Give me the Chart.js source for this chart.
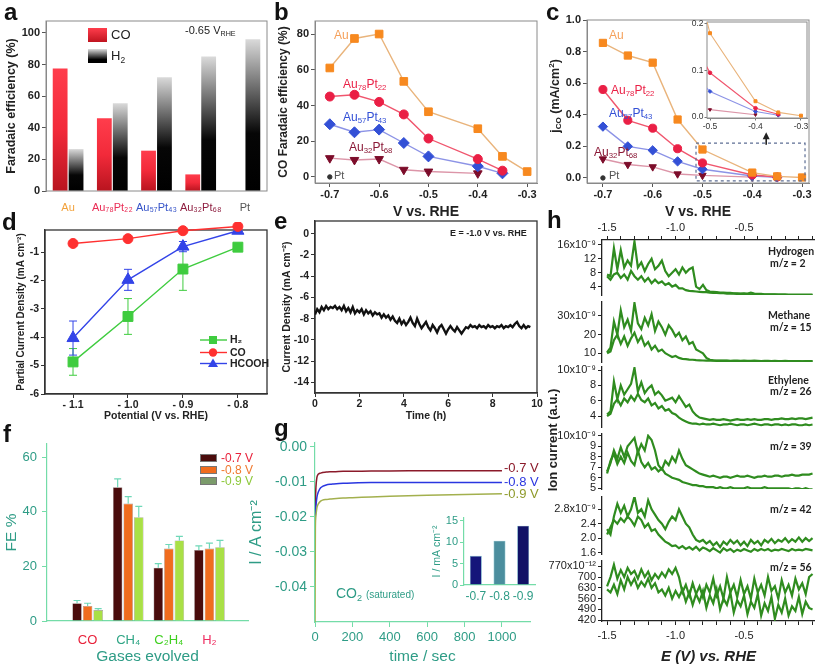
<!DOCTYPE html>
<html>
<head>
<meta charset="utf-8">
<script src="https://cdn.jsdelivr.net/npm/chart.js@4.4.1/dist/chart.umd.min.js"></script>
<style>
  body { margin: 0; background: #fff; }
  #fig { position: relative; width: 815px; height: 666px; overflow: hidden; background: #fff;
         font-family: "Liberation Sans", Arial, sans-serif; color: #222; }
  #fig canvas { position: absolute; }
  .t { position: absolute; white-space: nowrap; line-height: 1; }
  .L { position: absolute; font: bold 24px "Liberation Sans", Arial, sans-serif; line-height: 1; color: #111; }
  .r { position: absolute; white-space: nowrap; line-height: 1; transform: translate(-50%, -50%) rotate(-90deg); }
  .sw { position: absolute; box-sizing: border-box; }
  .h { font: bold 10.5px Lato, "Open Sans", sans-serif; color: #222; }
  sub { font-size: 65%; vertical-align: -0.3em; line-height: 0; }
  sup { font-size: 65%; vertical-align: 0.55em; line-height: 0; }
</style>
</head>
<body>
<div id="fig">
  <canvas id="ca"></canvas><canvas id="cb"></canvas><canvas id="cc"></canvas><canvas id="cci"></canvas>
  <canvas id="cd"></canvas><canvas id="ce"></canvas>
  <canvas id="cf"></canvas><canvas id="cg"></canvas><canvas id="cgi"></canvas>
  <canvas id="h1"></canvas><canvas id="h2"></canvas><canvas id="h3"></canvas>
  <canvas id="h4"></canvas><canvas id="h5"></canvas><canvas id="h6"></canvas>

  <!-- panel letters -->
  <div class="L" style="left:4px;top:0px">a</div>
  <div class="L" style="left:274px;top:0px">b</div>
  <div class="L" style="left:546px;top:0px">c</div>
  <div class="L" style="left:2px;top:210px">d</div>
  <div class="L" style="left:274px;top:209px">e</div>
  <div class="L" style="left:3px;top:422px">f</div>
  <div class="L" style="left:274px;top:416px">g</div>
  <div class="L" style="left:547px;top:208px">h</div>

  <!-- a -->
  <div class="sw" style="left:88px;top:28px;width:19px;height:14px;background:linear-gradient(#ff3d4c,#c0141f)"></div>
  <div class="t" style="left:111px;top:28px;font-size:13px">CO</div>
  <div class="sw" style="left:88px;top:49px;width:19px;height:14px;background:linear-gradient(#dcdcdc,#000 75%)"></div>
  <div class="t" style="left:111px;top:49px;font-size:13px">H<sub>2</sub></div>
  <div class="t" style="left:185px;top:25px;font-size:11px">-0.65 V<sub>RHE</sub></div>

  <!-- b -->
  <div class="t" style="left:334px;top:29px;font-size:12px;color:#f5a05a">Au</div>
  <div class="t" style="left:343px;top:78px;font-size:12px;color:#ea1f45">Au<sub>78</sub>Pt<sub>22</sub></div>
  <div class="t" style="left:343px;top:111px;font-size:12px;color:#3350d6">Au<sub>57</sub>Pt<sub>43</sub></div>
  <div class="t" style="left:349px;top:141px;font-size:12px;color:#8a1836">Au<sub>32</sub>Pt<sub>68</sub></div>
  <div class="t" style="left:334px;top:170px;font-size:11px;color:#555">Pt</div>

  <!-- c -->
  <div class="t" style="left:609px;top:29px;font-size:12px;color:#f5a05a">Au</div>
  <div class="t" style="left:611px;top:84px;font-size:12px;color:#ea1f45">Au<sub>78</sub>Pt<sub>22</sub></div>
  <div class="t" style="left:609px;top:107px;font-size:12px;color:#3350d6">Au<sub>57</sub>Pt<sub>43</sub></div>
  <div class="t" style="left:594px;top:146px;font-size:12px;color:#8a1836">Au<sub>32</sub>Pt<sub>68</sub></div>
  <div class="t" style="left:609px;top:170px;font-size:11px;color:#555">Pt</div>
  <div class="r" style="left:555px;top:96px;font-weight:bold;font-size:12.5px">j<sub>CO</sub> (mA/cm<sup>2</sup>)</div>

  <!-- e -->
  <div class="t" style="left:450px;top:229px;font-weight:bold;font-size:9px">E = -1.0 V vs. RHE</div>

  <!-- f legend -->
  <div class="sw" style="left:200px;top:454px;width:17px;height:8px;border:1px solid #777;background:#4a0c0c"></div>
  <div class="t" style="left:221px;top:452px;font-size:12px;color:#e8213a">-0.7 V</div>
  <div class="sw" style="left:200px;top:466px;width:17px;height:8px;border:1px solid #777;background:#f06c1e"></div>
  <div class="t" style="left:221px;top:464px;font-size:12px;color:#f07a30">-0.8 V</div>
  <div class="sw" style="left:200px;top:477px;width:17px;height:8px;border:1px solid #777;background:#7b9b6b"></div>
  <div class="t" style="left:221px;top:475px;font-size:12px;color:#8cc83a">-0.9 V</div>

  <!-- g -->
  <div class="t" style="left:504px;top:461px;font-size:13px;color:#8b1a2a">-0.7 V</div>
  <div class="t" style="left:504px;top:475px;font-size:13px;color:#2a36e0">-0.8 V</div>
  <div class="t" style="left:504px;top:487px;font-size:13px;color:#8e9a2a">-0.9 V</div>
  <div class="t" style="left:336px;top:586px;font-size:14px;color:#2e9c86">CO<sub>2</sub> <span style="font-size:10px">(saturated)</span></div>

  <!-- h -->
  <div class="r" style="left:552px;top:440px;font-weight:bold;font-size:13px">Ion current (a.u.)</div>
  <div class="t h" style="left:768px;top:245px">Hydrogen</div>
  <div class="t h" style="left:770px;top:257px">m/z = 2</div>
  <div class="t h" style="left:768px;top:309px">Methane</div>
  <div class="t h" style="left:770px;top:321px">m/z = 15</div>
  <div class="t h" style="left:768px;top:374px">Ethylene</div>
  <div class="t h" style="left:770px;top:385px">m/z = 26</div>
  <div class="t h" style="left:770px;top:440px">m/z = 39</div>
  <div class="t h" style="left:770px;top:503px">m/z = 42</div>
  <div class="t h" style="left:770px;top:561px">m/z = 56</div>
</div>

<script>
// ---------------- data ----------------
// a: Faradaic efficiency at -0.65 V_RHE
const A_LABELS = ['Au', 'Au₇₈Pt₂₂', 'Au₅₇Pt₄₃', 'Au₃₂Pt₆₈', 'Pt'];
const A_CO = [77.5, 46, 25.5, 10.5, 0];
const A_H2 = [26.5, 55.5, 72, 85, 96];
const A_YTICKS = [0, 20, 40, 60, 80, 100];

// b, c: potentials shared by the catalyst series
const BC_V = [-0.7, -0.65, -0.6, -0.55, -0.5, -0.4, -0.35, -0.3];
const PT_V = [-0.7];
const BC_XTICKS = [-0.7, -0.6, -0.5, -0.4, -0.3];

const B_AU = [61, 77.5, 80, 53.5, 36.5, 27, 11.5, 3];
const B_AU78 = [45, 46, 42, 35, 21.5, 10, 3.5];
const B_AU57 = [29.5, 25, 26.5, 19, 11.5, 6, 2];
const B_AU32 = [10.5, 9.5, 10, 4, 3, 2];
const B_PT = [0];
const B_YTICKS = [0, 20, 40, 60, 80];

const C_AU = [0.855, 0.775, 0.73, 0.37, 0.18, 0.034, 0.01, 0.003];
const C_AU78 = [0.56, 0.365, 0.315, 0.185, 0.095, 0.019, 0.006];
const C_AU57 = [0.325, 0.2, 0.175, 0.105, 0.055, 0.012, 0.004];
const C_AU32 = [0.12, 0.085, 0.07, 0.025, 0.016, 0.005];
const C_PT = [0];
const C_YTICKS = [0, 0.2, 0.4, 0.6, 0.8, 1.0];
const C_IN_XTICKS = [-0.5, -0.4, -0.3];
const C_IN_YTICKS = [0, 0.1, 0.2];
const C_BOX = [-0.513, -0.294, -0.019, 0.22];   // zoomed region: x0, x1, y0, y1
const C_ARROW = [-0.372, 0.21, 0.29];           // x, y from, y to

// d: partial current densities
const D_V = [-1.1, -1.0, -0.9, -0.8];
const D_H2 = [-4.87, -3.27, -1.6, -0.83];
const D_H2_ERR = [0.47, 0.63, 0.75, 0.1];
const D_CO = [-0.7, -0.53, -0.25, -0.1];
const D_CO_ERR = [0.1, 0.06, 0.06, 0.05];
const D_HCOOH = [-4.03, -1.98, -0.81, -0.25];
const D_HCOOH_ERR = [0.6, 0.37, 0.18, 0.06];
const D_NAMES = ['H₂', 'CO', 'HCOOH'];
const D_YTICKS = [-6, -5, -4, -3, -2, -1];

// e: chronoamperometry at -1.0 V
const E_T = [0, 0.1, 0.2, 0.3, 0.4, 0.5, 0.6, 0.7, 0.8, 0.9, 1, 1.1, 1.2, 1.3, 1.4, 1.5, 1.6, 1.7, 1.8, 1.9,
  2, 2.1, 2.2, 2.3, 2.4, 2.5, 2.6, 2.7, 2.8, 2.9, 3, 3.1, 3.2, 3.3, 3.4, 3.5, 3.6, 3.7, 3.8, 3.9,
  4, 4.1, 4.2, 4.3, 4.4, 4.5, 4.6, 4.7, 4.8, 4.9, 5, 5.1, 5.2, 5.3, 5.4, 5.5, 5.6, 5.7, 5.8, 5.9,
  6, 6.1, 6.2, 6.3, 6.4, 6.5, 6.6, 6.7, 6.8, 6.9, 7, 7.1, 7.2, 7.3, 7.4, 7.5, 7.6, 7.7, 7.8, 7.9,
  8, 8.1, 8.2, 8.3, 8.4, 8.5, 8.6, 8.7, 8.8, 8.9, 9, 9.1, 9.2, 9.3, 9.4, 9.5, 9.6, 9.7];
const E_J = [-7.6, -7.1, -7.4, -6.9, -7.2, -6.8, -7.1, -6.9, -7.0, -6.8,
  -7.1, -6.9, -7.2, -6.8, -7.3, -7.0, -7.4, -6.9, -7.5, -7.2,
  -7.4, -7.1, -7.6, -7.2, -7.5, -7.3, -7.7, -7.4, -7.6, -7.5,
  -7.9, -7.6, -7.9, -7.7, -8.1, -7.8, -8.2, -8.4, -8.0, -8.5,
  -8.2, -8.6, -8.3, -7.9, -8.4, -8.7, -8.0, -8.5, -8.9, -8.6,
  -8.3, -8.8, -9.1, -8.6, -8.9, -9.3, -8.8, -8.6, -9.0, -9.4,
  -9.0, -8.7, -9.0, -9.2, -8.8, -9.1, -9.4, -9.1, -8.8, -8.9,
  -8.6, -8.8, -8.7, -8.9, -8.6, -8.8, -8.7, -8.9, -8.6, -8.8,
  -8.7, -8.9, -8.7, -8.8, -8.6, -8.9, -8.7, -8.8, -8.6, -8.8,
  -8.5, -8.3, -8.7, -8.9, -8.6, -8.9, -8.7, -8.8];
const E_XTICKS = [0, 2, 4, 6, 8, 10];
const E_YTICKS = [-14, -12, -10, -8, -6, -4, -2, 0];

// f: Faradaic efficiency of evolved gases
const F_GASES = ['CO', 'CH₄', 'C₂H₄', 'H₂'];
const F_POS = [1, 2, 3, 4];
const F_07 = [6.5, 49, 19.5, 26];
const F_08 = [5.5, 43, 26.5, 26.5];
const F_09 = [4, 38, 29.5, 27];
const F_07_ERR = [1, 3, 1.5, 1.5];
const F_08_ERR = [1, 2.5, 1.5, 2];
const F_09_ERR = [0.5, 4, 1.5, 2.5];
const F_YTICKS = [0, 20, 40, 60];

// g: current transients in CO2-saturated electrolyte
const G_T = [0, 2, 5, 10, 15, 20, 30, 40, 60, 80, 100, 150, 200, 300, 400, 600, 800, 1000];
const G_07 = [-0.022, -0.016, -0.0115, -0.0088, -0.008, -0.0077, -0.0075, -0.0073, -0.0072, -0.0071, -0.0071, -0.007, -0.007, -0.0069, -0.0069, -0.0068, -0.0068, -0.0068];
const G_08 = [-0.0235, -0.02, -0.017, -0.0145, -0.0133, -0.0126, -0.0117, -0.0113, -0.0109, -0.0107, -0.0106, -0.0104, -0.0103, -0.0102, -0.0102, -0.0102, -0.0102, -0.0102];
const G_09 = [-0.05, -0.023, -0.0195, -0.0175, -0.0166, -0.0161, -0.0155, -0.0152, -0.015, -0.0149, -0.0148, -0.0146, -0.0145, -0.0143, -0.0141, -0.0138, -0.0136, -0.0134];
const G_XTICKS = [0, 200, 400, 600, 800, 1000];
const G_YTICKS = [-0.04, -0.03, -0.02, -0.01, 0];
const G_IN_LABELS = ['-0.7', '-0.8', '-0.9'];
const G_IN = [6.8, 10.3, 13.8];
const G_IN_YTICKS = [0, 5, 10, 15];

// h: mass spectrometer ion currents (two sweeps each)
const H_E = [-1.5, -1.475, -1.45, -1.425, -1.4, -1.375, -1.35, -1.325, -1.3, -1.275, -1.25, -1.225, -1.2, -1.175, -1.15,
  -1.125, -1.1, -1.075, -1.05, -1.025, -1.0, -0.975, -0.95, -0.925, -0.9, -0.875, -0.85, -0.825, -0.8, -0.775,
  -0.75, -0.725, -0.7, -0.675, -0.65, -0.625, -0.6, -0.575, -0.55, -0.525, -0.5, -0.475, -0.45, -0.425, -0.4,
  -0.375, -0.35, -0.325, -0.3, -0.275, -0.25, -0.225, -0.2, -0.175, -0.15, -0.125, -0.1, -0.075, -0.05, -0.025, 0];
const H_XTICKS = [-1.5, -1.4, -1.3, -1.2, -1.1, -1.0, -0.9, -0.8, -0.7, -0.6, -0.5, -0.4, -0.3, -0.2, -0.1, 0];
const H_XLABELS = [-1.5, -1.0, -0.5];

const H_M2_A = [7.5, 7, 15, 9, 14.5, 9.5, 11.5, 10, 17, 9.5, 11, 8.5, 10.5, 12, 9, 10, 11.5, 8.5, 7, 8,
  9, 7.5, 9.5, 8, 9, 9.5, 4, 3.3, 4.5, 3, 2.6, 2.5, 2.4, 2.3, 2.3, 2.2, 2.2, 2.1, 2.1, 2.0,
  2.1, 2.0, 2.3, 2.0, 1.9, 1.9, 1.8, 1.8, 1.8, 1.8, 1.7, 1.7, 1.7, 1.7, 1.7, 1.7, 1.7, 1.7, 1.7, 1.7, 1.7];
const H_M2_B = [7, 6, 7.5, 8, 6.5, 7.5, 6, 8.5, 7, 6, 7, 5.5, 6.5, 5, 6, 5, 5.5, 4.5, 5, 4,
  4.5, 3.5, 3.5, 3, 2.8, 2.7, 2.6, 2.5, 2.4, 2.4, 2.3, 2.2, 2.2, 2.1, 2.1, 2.0, 2.0, 2.0, 1.9, 1.9,
  1.9, 1.8, 1.8, 1.8, 1.8, 1.7, 1.7, 1.7, 1.7, 1.7, 1.7, 1.7, 1.7, 1.6, 1.6, 1.6, 1.6, 1.6, 1.6, 1.6, 1.6];
const H_M15_A = [10.5, 13, 27, 20, 33, 24, 28, 22, 37, 26, 23, 29, 25, 31, 22, 27, 24, 20, 25, 22.5,
  19, 21, 17, 19, 15, 16, 12, 11, 10, 7.5, 6.5, 6.2, 6.1, 6.0, 6.0, 6.1, 5.9, 6.0, 6.0, 5.9,
  6.0, 5.9, 5.9, 6.0, 5.9, 5.8, 5.9, 5.9, 5.8, 5.9, 5.8, 5.8, 5.9, 5.8, 5.8, 5.8, 5.8, 5.7, 5.8, 5.8, 5.8];
const H_M15_B = [10, 11, 17, 20, 15, 19, 14, 18, 21, 16, 19, 14, 16, 12, 14, 11, 12, 10, 9, 8,
  8.5, 7.5, 7, 6.8, 6.6, 6.5, 6.3, 6.2, 6.1, 6.0, 6.0, 6.0, 5.9, 5.9, 5.9, 5.9, 5.8, 5.8, 5.8, 5.8,
  5.8, 5.8, 5.7, 5.7, 5.7, 5.7, 5.7, 5.7, 5.7, 5.7, 5.7, 5.7, 5.7, 5.6, 5.6, 5.6, 5.6, 5.6, 5.6, 5.6, 5.6];
const H_M26_A = [4.2, 4.6, 8.5, 6.2, 8.0, 6.8, 7.5, 8.2, 10.3, 7.2, 8.4, 7.0, 7.6, 8.0, 6.8, 7.2, 6.7, 6.0, 6.2, 6.4,
  5.8, 6.6, 5.9, 5.2, 5.5, 4.6, 4.1, 3.8, 3.7, 3.6, 3.5, 3.6, 3.5, 3.5, 3.6, 3.5, 3.4, 3.5, 3.6, 3.5,
  3.5, 3.6, 3.5, 3.6, 3.5, 3.5, 3.6, 3.6, 3.5, 3.6, 3.6, 3.7, 3.6, 3.6, 3.7, 3.6, 3.7, 3.7, 3.6, 3.7, 3.8];
const H_M26_B = [4.0, 4.3, 5.6, 6.2, 5.4, 6.3, 5.8, 6.6, 6.0, 6.9, 6.1, 5.8, 6.3, 5.4, 5.7, 5.0, 5.3, 4.7, 4.9, 4.4,
  4.2, 3.8, 3.5, 3.3, 3.1, 3.0, 3.0, 2.9, 3.0, 2.9, 2.9, 3.0, 2.9, 2.8, 2.9, 2.9, 3.0, 2.9, 2.8, 2.9,
  2.9, 2.8, 2.9, 3.0, 2.9, 2.8, 2.9, 2.9, 2.8, 2.9, 2.9, 2.8, 2.9, 2.8, 2.9, 2.9, 2.8, 2.8, 2.9, 2.8, 2.9];
const H_M39_A = [6.6, 7.4, 8.6, 7.8, 8.9, 8.0, 9.0, 9.4, 9.8, 8.4, 9.2, 8.6, 10.0, 9.6, 8.6, 7.2, 6.8, 7.6, 7.2, 8.0,
  7.5, 8.6, 7.8, 7.2, 7.0, 6.8, 6.6, 6.4, 6.3, 6.2, 6.1, 6.2, 6.1, 6.0, 6.1, 6.1, 6.0, 6.1, 6.2, 6.1,
  6.1, 6.2, 6.1, 6.0, 6.1, 6.1, 6.2, 6.1, 6.1, 6.2, 6.2, 6.1, 6.2, 6.2, 6.3, 6.2, 6.2, 6.3, 6.3, 6.3, 6.4];
const H_M39_B = [6.4, 7.6, 8.3, 7.3, 8.0, 7.4, 8.4, 7.6, 7.2, 8.6, 7.5, 7.0, 7.4, 6.8, 7.0, 6.6, 6.9, 6.4, 6.2, 6.0,
  5.9, 5.8, 5.6, 5.5, 5.4, 5.3, 5.3, 5.2, 5.2, 5.1, 5.1, 5.1, 5.0, 5.1, 5.0, 5.0, 5.1, 5.0, 5.0, 5.0,
  5.0, 5.1, 5.0, 5.0, 5.0, 5.0, 5.1, 5.0, 5.0, 5.0, 5.0, 5.0, 5.0, 5.0, 4.9, 5.0, 5.0, 4.9, 5.0, 4.9, 4.9];
const H_M42_A = [2.25, 2.1, 2.6, 2.95, 2.7, 2.9, 2.6, 2.8, 3.15, 2.7, 2.8, 2.6, 3.05, 2.8, 2.65, 2.5, 2.4, 2.25, 2.45, 2.6,
  2.5, 2.8, 2.6, 2.4, 2.3, 2.1, 1.95, 1.9, 1.95, 1.85, 1.92, 1.8, 1.88, 1.75, 1.9, 1.82, 1.95, 1.85, 1.93, 1.8,
  1.9, 1.78, 1.95, 1.85, 1.92, 1.8, 1.95, 1.88, 1.98, 1.86, 1.95, 1.9, 2.0, 1.88, 1.97, 1.9, 2.02, 1.9, 2.0, 1.92, 2.0];
const H_M42_B = [2.1, 2.3, 2.5, 2.4, 2.55, 2.45, 2.6, 2.5, 2.35, 2.6, 2.5, 2.3, 2.4, 2.2, 2.25, 2.1, 2.0, 1.9, 1.85, 1.78,
  1.8, 1.72, 1.78, 1.7, 1.75, 1.68, 1.76, 1.66, 1.74, 1.7, 1.64, 1.72, 1.66, 1.6, 1.72, 1.65, 1.7, 1.62, 1.68, 1.64,
  1.7, 1.66, 1.62, 1.7, 1.65, 1.7, 1.66, 1.7, 1.64, 1.68, 1.66, 1.7, 1.67, 1.64, 1.7, 1.66, 1.68, 1.66, 1.7, 1.68, 1.66];
const H_M56_A = [640, 700, 780, 690, 745, 700, 760, 720, 740, 690, 750, 700, 735, 680, 720, 690, 730, 700, 750, 720,
  760, 700, 600, 650, 580, 660, 590, 640, 570, 650, 600, 690, 580, 640, 560, 700, 600, 650, 570, 680,
  590, 640, 560, 690, 600, 650, 580, 700, 610, 640, 560, 680, 600, 650, 580, 690, 620, 660, 590, 700, 720];
const H_M56_B = [620, 600, 650, 590, 680, 620, 700, 650, 690, 630, 670, 640, 690, 630, 660, 600, 620, 580, 630, 560,
  610, 570, 620, 540, 600, 520, 590, 540, 610, 500, 580, 530, 620, 490, 560, 520, 600, 470, 550, 510,
  580, 460, 540, 500, 590, 450, 530, 480, 570, 430, 520, 470, 560, 450, 510, 480, 570, 460, 540, 500, 490];
const H_M2_TICKS = [4, 8, 12, 16];
const H_M15_TICKS = [10, 20, 30];
const H_M26_TICKS = [4, 6, 8, 10];
const H_M39_TICKS = [5, 6, 7, 8, 9, 10];
const H_M42_TICKS = [1.6, 2.0, 2.4, 2.8];
const H_M56_TICKS = [420, 490, 560, 630, 700, 770];

// ---------------- helpers ----------------
Chart.defaults.font.family = '"Liberation Sans", Arial, Helvetica, sans-serif';
Chart.defaults.color = '#222';

const FONT = (size, weight, style) => ({ size, weight: weight || 'normal', style: style || 'normal' });
const pts = (xs, ys) => ys.map((y, i) => ({ x: xs[i], y }));

// place a canvas at [left, top, width, height] of the page
function put(id, box) {
  const c = document.getElementById(id);
  c.width = box[2]; c.height = box[3];
  c.style.left = box[0] + 'px'; c.style.top = box[1] + 'px';
  return c;
}
// paddings and axis sizes so the chart area lands on area = [x0, y0, x1, y1]
function lay(box, area, xPos) {
  const top = area[1] - box[1], bottom = box[1] + box[3] - area[3];
  return {
    padding: { left: 0, right: box[0] + box[2] - area[2], top: xPos === 'top' ? 0 : top, bottom: xPos === 'bottom' ? 0 : bottom },
    yw: area[0] - box[0],
    xh: xPos === 'top' ? top : bottom
  };
}
const fixY = L => s => { s.width = L.yw; s.paddingTop = 0; s.paddingBottom = 0; };
const fixX = L => s => { s.height = L.xh; s.paddingLeft = 0; s.paddingRight = 0; };
const useTicks = arr => s => { s.ticks = arr.map(v => ({ value: v })); };
const tg = (color, len) => ({ display: true, drawOnChartArea: false, drawTicks: true, tickLength: len, color, tickColor: color });
const NO_GRID = { display: false, drawTicks: false, offset: false };

function opts(L, scales, plugins, extra) {
  return Object.assign({
    responsive: false, animation: false, devicePixelRatio: 1, events: [],
    layout: { padding: L.padding, autoPadding: false },
    scales,
    plugins: Object.assign({ legend: { display: false }, tooltip: { enabled: false } }, plugins || {})
  }, extra || {});
}

// box around the plot area
const framePlugin = {
  id: 'frame',
  beforeDatasetsDraw(chart, args, o) {
    if (!o || !o.color) return;
    const { ctx, chartArea: a } = chart;
    ctx.save();
    if (o.fill) { ctx.fillStyle = o.fill; ctx.fillRect(a.left, a.top, a.width, a.height); }
    ctx.strokeStyle = o.color; ctx.lineWidth = o.width || 1;
    ctx.strokeRect(a.left, a.top, a.width, a.height);
    ctx.restore();
  }
};
// error bars from dataset.errs
const errBarPlugin = {
  id: 'errBars',
  beforeDatasetsDraw(chart) {
    const { ctx } = chart, y = chart.scales.y;
    chart.data.datasets.forEach((ds, i) => {
      if (!ds.errs) return;
      const meta = chart.getDatasetMeta(i);
      ctx.save();
      ctx.strokeStyle = ds.errColor; ctx.lineWidth = ds.errWidth || 1;
      meta.data.forEach((el, j) => {
        const v = ds.data[j].y, e = ds.errs[j], cap = ds.errCap || 3;
        const yt = y.getPixelForValue(v + e), yb = y.getPixelForValue(ds.errUpOnly ? v : v - e);
        ctx.beginPath();
        ctx.moveTo(el.x, yb); ctx.lineTo(el.x, yt);
        ctx.moveTo(el.x - cap, yt); ctx.lineTo(el.x + cap, yt);
        if (!ds.errUpOnly) { ctx.moveTo(el.x - cap, yb); ctx.lineTo(el.x + cap, yb); }
        ctx.stroke();
      });
      ctx.restore();
    });
  }
};
Chart.register(framePlugin, errBarPlugin);

function barGrad(stops, mid) {
  return ctx => {
    const c = ctx.chart, y = c.scales.y;
    if (ctx.type !== 'data' || !y) return stops[0];
    const p0 = y.getPixelForValue(ctx.raw), p1 = y.getPixelForValue(0);
    if (!(p1 - p0 > 1)) return stops[0];
    const g = c.ctx.createLinearGradient(0, p0, 0, p1);
    g.addColorStop(0, stops[0]); g.addColorStop(mid, stops[1]); g.addColorStop(1, stops[2]);
    return g;
  };
}

const STY = {
  au:   { line: '#e9b47c', fill: '#f7891f', shape: 'rect', r: 6 },
  au78: { line: '#f0566e', fill: '#ea1f45', shape: 'circle', r: 4.5 },
  au57: { line: '#8c93e6', fill: '#3350d6', shape: 'rectRot', r: 5.5 },
  au32: { line: '#dc95a8', fill: '#7c0c2a', shape: 'triangle', r: 5, rot: 180 },
  pt:   { line: '#333', fill: '#333', shape: 'circle', r: 2.2 }
};
function lineDs(data, s, k, lw) {
  k = k || 1;
  return { data, borderColor: s.line, backgroundColor: s.fill, pointBackgroundColor: s.fill, pointBorderColor: s.fill,
    pointBorderWidth: 1, pointStyle: s.shape, pointRadius: s.r * k, pointRotation: s.rot || 0,
    borderWidth: lw || 1.4, clip: false, showLine: data.length > 1 };
}

// ---------------- a ----------------
const A_LABEL_COLORS = ['#f2a23c', '#ea2c55', '#3553c8', '#8e1d3f', '#555'];
const BOX_A = [0, 0, 272, 222], LA = lay(BOX_A, [46, 21, 267, 191], 'bottom');
new Chart(put('ca', BOX_A), {
  type: 'bar',
  data: { labels: A_LABELS, datasets: [
    { label: 'CO', data: A_CO, backgroundColor: barGrad(['#ff3d4c', '#f22a3a', '#b8141f'], 0.5) },
    { label: 'H2', data: A_H2, backgroundColor: barGrad(['#dadada', '#060606', '#000'], 0.62) }
  ]},
  options: opts(LA, {
    x: { grid: NO_GRID, border: { display: false },
         ticks: { color: c => A_LABEL_COLORS[c.index], font: FONT(11), padding: 10, maxRotation: 0, autoSkip: false },
         afterFit: fixX(LA) },
    y: { min: 0, max: 107.5, afterBuildTicks: useTicks(A_YTICKS), grid: tg('#555', 4), border: { color: '#888' },
         ticks: { font: FONT(11, 'bold'), padding: 2 },
         title: { display: true, text: 'Faradaic efficiency (%)', font: FONT(12.5, 'bold'), padding: { top: 4 } },
         afterFit: fixY(LA) }
  }, { frame: { color: '#8a8a8a' } }, { datasets: { bar: { categoryPercentage: 0.72, barPercentage: 0.93 } } })
});

// ---------------- b ----------------
const BOX_B = [272, 0, 272, 222], LB = lay(BOX_B, [315, 21, 537, 183], 'bottom');
new Chart(put('cb', BOX_B), {
  type: 'line',
  data: { datasets: [
    lineDs(pts(BC_V, B_AU), STY.au, 0.9), lineDs(pts(BC_V, B_AU78), STY.au78),
    lineDs(pts(BC_V, B_AU57), STY.au57), lineDs(pts(BC_V, B_AU32), STY.au32),
    lineDs(pts(PT_V, B_PT), STY.pt)
  ]},
  options: opts(LB, {
    x: { type: 'linear', min: -0.73, max: -0.28, afterBuildTicks: useTicks(BC_XTICKS),
         ticks: { callback: v => v.toFixed(1), font: FONT(11, 'bold'), padding: 1, maxRotation: 0, autoSkip: false },
         grid: tg('#555', 4), border: { color: '#888' },
         title: { display: true, text: 'V vs. RHE', font: FONT(14, 'bold'), padding: { bottom: 1 } }, afterFit: fixX(LB) },
    y: { min: -3.4, max: 87.3, afterBuildTicks: useTicks(B_YTICKS), ticks: { font: FONT(11, 'bold'), padding: 2 },
         grid: tg('#555', 4), border: { color: '#888' },
         title: { display: true, text: 'CO Faradaic efficiency (%)', font: FONT(12, 'bold'), padding: { top: 4 } }, afterFit: fixY(LB) }
  }, { frame: { color: '#8a8a8a' } })
});

// ---------------- c ----------------
const zoomBoxPlugin = {
  id: 'zoomBox',
  afterDatasetsDraw(chart) {
    const { ctx, scales: { x, y } } = chart;
    const x0 = x.getPixelForValue(C_BOX[0]), x1 = x.getPixelForValue(C_BOX[1]);
    const y0 = y.getPixelForValue(C_BOX[3]), y1 = y.getPixelForValue(C_BOX[2]);
    ctx.save();
    ctx.setLineDash([3, 3]); ctx.strokeStyle = '#5d6e94'; ctx.lineWidth = 1.2;
    ctx.strokeRect(x0, y0, x1 - x0, y1 - y0);
    ctx.setLineDash([]);
    const ax = x.getPixelForValue(C_ARROW[0]), ay0 = y.getPixelForValue(C_ARROW[1]), ay1 = y.getPixelForValue(C_ARROW[2]);
    ctx.strokeStyle = '#222'; ctx.fillStyle = '#222'; ctx.lineWidth = 1.6;
    ctx.beginPath(); ctx.moveTo(ax, ay0); ctx.lineTo(ax, ay1 + 4); ctx.stroke();
    ctx.beginPath(); ctx.moveTo(ax, ay1); ctx.lineTo(ax - 3.5, ay1 + 7); ctx.lineTo(ax + 3.5, ay1 + 7); ctx.closePath(); ctx.fill();
    ctx.restore();
  }
};
const BOX_C = [544, 0, 271, 222], LC = lay(BOX_C, [587, 20, 809, 183], 'bottom');
new Chart(put('cc', BOX_C), {
  type: 'line',
  data: { datasets: [
    lineDs(pts(BC_V, C_AU), STY.au, 0.85), lineDs(pts(BC_V, C_AU78), STY.au78, 0.9),
    lineDs(pts(BC_V, C_AU57), STY.au57, 0.85), lineDs(pts(BC_V, C_AU32), STY.au32, 0.85),
    lineDs(pts(PT_V, C_PT), STY.pt)
  ]},
  options: opts(LC, {
    x: { type: 'linear', min: -0.732, max: -0.286, afterBuildTicks: useTicks(BC_XTICKS),
         ticks: { callback: v => v.toFixed(1), font: FONT(11, 'bold'), padding: 1, maxRotation: 0, autoSkip: false },
         grid: tg('#555', 4), border: { color: '#888' },
         title: { display: true, text: 'V vs. RHE', font: FONT(14, 'bold'), padding: { bottom: 1 } }, afterFit: fixX(LC) },
    y: { min: -0.032, max: 1.0, afterBuildTicks: useTicks(C_YTICKS),
         ticks: { callback: v => v.toFixed(1), font: FONT(11, 'bold'), padding: 2 },
         grid: tg('#555', 4), border: { color: '#888' }, afterFit: fixY(LC) }
  }, { frame: { color: '#8a8a8a' } }),
  plugins: [zoomBoxPlugin]
});

// c inset
const BOX_CI = [688, 14, 124, 124], LCI = lay(BOX_CI, [707, 22, 807, 118], 'bottom');
const inset = (d, s, k) => Object.assign(lineDs(d, s, k, 1.1), { clip: 0 });
new Chart(put('cci', BOX_CI), {
  type: 'line',
  data: { datasets: [
    inset(pts(BC_V, C_AU), STY.au, 0.35), inset(pts(BC_V, C_AU78), STY.au78, 0.4),
    inset(pts(BC_V, C_AU57), STY.au57, 0.35), inset(pts(BC_V, C_AU32), STY.au32, 0.35)
  ]},
  options: opts(LCI, {
    x: { type: 'linear', min: -0.5066, max: -0.2868, afterBuildTicks: useTicks(C_IN_XTICKS),
         ticks: { callback: v => v.toFixed(1), font: FONT(8.5), padding: 1, maxRotation: 0, autoSkip: false, color: '#333' },
         grid: tg('#777', 2.5), border: { color: '#888' }, afterFit: fixX(LCI) },
    y: { min: -0.002, max: 0.204, afterBuildTicks: useTicks(C_IN_YTICKS),
         ticks: { callback: v => v.toFixed(1), font: FONT(8.5), padding: 1, color: '#333' },
         grid: tg('#777', 2.5), border: { color: '#888' }, afterFit: fixY(LCI) }
  }, { frame: { color: '#8a8a8a', fill: '#fff' } })
});

// ---------------- d ----------------
const D_STY = [
  { line: '#3fcc3f', fill: '#3fcc3f', shape: 'rect', r: 7 },
  { line: '#ff3030', fill: '#ff3030', shape: 'circle', r: 5 },
  { line: '#3344e8', fill: '#3344e8', shape: 'triangle', r: 7 }
];
const dLegendPlugin = {
  id: 'dLegend',
  afterDraw(chart) {
    const ctx = chart.ctx, rowY = [118, 130.5, 141.5];
    ctx.save();
    D_STY.forEach((s, k) => {
      const y = rowY[k];
      ctx.strokeStyle = s.line; ctx.lineWidth = 1.4;
      ctx.beginPath(); ctx.moveTo(200, y); ctx.lineTo(227, y); ctx.stroke();
      ctx.fillStyle = s.fill; ctx.beginPath();
      if (s.shape === 'rect') ctx.rect(209, y - 4, 8, 8);
      else if (s.shape === 'circle') ctx.arc(213, y, 4.2, 0, Math.PI * 2);
      else { ctx.moveTo(213, y - 5); ctx.lineTo(218, y + 3.5); ctx.lineTo(208, y + 3.5); ctx.closePath(); }
      ctx.fill();
      ctx.fillStyle = '#222'; ctx.font = 'bold 10.5px "Liberation Sans", Arial, sans-serif';
      ctx.textBaseline = 'middle'; ctx.fillText(D_NAMES[k], 230, y + 0.5);
    });
    ctx.restore();
  }
};
const BOX_D = [0, 222, 272, 200], LD = lay(BOX_D, [45, 230, 267, 394], 'bottom');
const dDs = (ys, errs, s) => Object.assign(lineDs(pts(D_V, ys), s), { errs, errColor: s.line, errCap: 4, borderWidth: 1.4 });
new Chart(put('cd', BOX_D), {
  type: 'line',
  data: { datasets: [dDs(D_H2, D_H2_ERR, D_STY[0]), dDs(D_CO, D_CO_ERR, D_STY[1]), dDs(D_HCOOH, D_HCOOH_ERR, D_STY[2])] },
  options: opts(LD, {
    x: { type: 'linear', min: -1.151, max: -0.747, afterBuildTicks: useTicks(D_V),
         ticks: { callback: v => '- ' + Math.abs(v).toFixed(1), font: FONT(10.5, 'bold'), padding: 1, maxRotation: 0, autoSkip: false },
         grid: tg('#333', 4), border: { color: '#333', width: 1.3 },
         title: { display: true, text: 'Potential (V vs. RHE)', font: FONT(10.5, 'bold'), padding: { bottom: 0 } }, afterFit: fixX(LD) },
    y: { min: -6, max: -0.225, afterBuildTicks: useTicks(D_YTICKS), ticks: { font: FONT(10.5, 'bold'), padding: 2 },
         grid: tg('#333', 4), border: { color: '#333', width: 1.3 },
         title: { display: true, text: 'Partial Current Density (mA cm⁻²)', font: FONT(10, 'bold'), padding: { top: 15 } }, afterFit: fixY(LD) }
  }, { frame: { color: '#333', width: 1.3 } }),
  plugins: [dLegendPlugin]
});

// ---------------- e ----------------
const BOX_E = [272, 215, 272, 207], LE = lay(BOX_E, [315, 221, 537, 393], 'bottom');
new Chart(put('ce', BOX_E), {
  type: 'line',
  data: { datasets: [{ data: pts(E_T, E_J), borderColor: '#111', borderWidth: 2.4, pointRadius: 0 }] },
  options: opts(LE, {
    x: { type: 'linear', min: 0, max: 10, afterBuildTicks: useTicks(E_XTICKS),
         ticks: { font: FONT(10.5, 'bold'), padding: 1, maxRotation: 0, autoSkip: false },
         grid: tg('#333', 4), border: { color: '#333', width: 1.3 },
         title: { display: true, text: 'Time (h)', font: FONT(10.5, 'bold'), padding: { bottom: 0 } }, afterFit: fixX(LE) },
    y: { min: -15, max: 1.2, afterBuildTicks: useTicks(E_YTICKS), ticks: { font: FONT(10.5, 'bold'), padding: 2 },
         grid: tg('#333', 4), border: { color: '#333', width: 1.3 },
         title: { display: true, text: 'Current Density (mA cm⁻²)', font: FONT(10.5, 'bold'), padding: { top: 9 } }, afterFit: fixY(LE) }
  }, { frame: { color: '#333', width: 1.3 } })
});

// ---------------- f ----------------
const F_AXIS = '#74dca8', F_TEXT = '#2e9c86', F_ERR = '#6fd8b8';
const F_GAS_COLORS = ['#e8213a', '#2fa585', '#3fcf1f', '#ee2f62'];
const BOX_F = [0, 430, 272, 236], LF = lay(BOX_F, [47, 444, 248, 621], 'bottom');
const fDs = (ys, errs, color) => ({ data: pts(F_POS, ys), backgroundColor: color, borderColor: 'rgba(60,40,40,0.5)', borderWidth: 0.6,
  errs, errColor: F_ERR, errUpOnly: true, errCap: 3.5, errWidth: 1.2 });
new Chart(put('cf', BOX_F), {
  type: 'bar',
  data: { datasets: [fDs(F_07, F_07_ERR, '#4a0c0c'), fDs(F_08, F_08_ERR, '#f06c1e'), fDs(F_09, F_09_ERR, '#a9e046')] },
  options: opts(LF, {
    x: { type: 'linear', min: 0, max: 4.95, offset: false, afterBuildTicks: useTicks(F_POS),
         ticks: { callback: (v, i) => F_GASES[i], color: c => F_GAS_COLORS[c.index], font: FONT(13), padding: 12, autoSkip: false, maxRotation: 0 },
         grid: NO_GRID, border: { display: true, color: F_AXIS, width: 1.2 },
         title: { display: true, text: 'Gases evolved', color: F_TEXT, font: FONT(15.5), padding: { bottom: 0 } }, afterFit: fixX(LF) },
    y: { min: 0, max: 64.8, afterBuildTicks: useTicks(F_YTICKS), ticks: { color: F_TEXT, font: FONT(13), padding: 5 },
         grid: tg(F_AXIS, 5), border: { color: F_AXIS, width: 1.2 },
         title: { display: true, text: 'FE %', color: F_TEXT, font: FONT(15.5), padding: { top: 2 } }, afterFit: fixY(LF) }
  }, {}, { datasets: { bar: { categoryPercentage: 0.78, barPercentage: 0.9 } } })
});

// ---------------- g ----------------
const G_AXIS = '#74dca8', G_TEXT = '#2e9c86';
const BOX_G = [240, 430, 304, 236], LG = lay(BOX_G, [315, 443, 530, 622], 'bottom');
const gDs = (ys, color) => ({ data: pts(G_T, ys), borderColor: color, borderWidth: 1.5, pointRadius: 0, cubicInterpolationMode: 'monotone' });
new Chart(put('cg', BOX_G), {
  type: 'line',
  data: { datasets: [gDs(G_09, '#a3b04e'), gDs(G_08, '#2a36e0'), gDs(G_07, '#8b1a2a')] },
  options: opts(LG, {
    x: { type: 'linear', min: 0, max: 1150, afterBuildTicks: useTicks(G_XTICKS),
         ticks: { callback: v => String(v), color: G_TEXT, font: FONT(13), padding: 3, autoSkip: false, maxRotation: 0 },
         grid: tg(G_AXIS, 5), border: { color: G_AXIS, width: 1.2 },
         title: { display: true, text: 'time / sec', color: G_TEXT, font: FONT(15.5), padding: { bottom: 0 } }, afterFit: fixX(LG) },
    y: { min: -0.05, max: 0.0011, afterBuildTicks: useTicks(G_YTICKS),
         ticks: { callback: v => v.toFixed(2), color: G_TEXT, font: FONT(14), padding: 3 },
         grid: tg(G_AXIS, 5), border: { color: G_AXIS, width: 1.2 },
         title: { display: true, text: 'I / A cm⁻²', color: G_TEXT, font: FONT(16), padding: { top: 7 } }, afterFit: fixY(LG) }
  })
});

// g inset
const BOX_GI = [428, 508, 114, 97], LGI = lay(BOX_GI, [464, 518, 535, 585], 'bottom');
new Chart(put('cgi', BOX_GI), {
  type: 'bar',
  data: { labels: G_IN_LABELS, datasets: [{ data: G_IN, backgroundColor: ['#15157a', '#4b8e9e', '#111166'], borderColor: '#5fb8c8', borderWidth: 0.6 }] },
  options: opts(LGI, {
    x: { ticks: { color: G_TEXT, font: FONT(12), padding: 4, autoSkip: false, maxRotation: 0 },
         grid: NO_GRID, border: { color: G_AXIS, width: 1.2 }, afterFit: fixX(LGI) },
    y: { min: 0, max: 15.6, afterBuildTicks: useTicks(G_IN_YTICKS), ticks: { color: G_TEXT, font: FONT(11), padding: 2 },
         grid: tg(G_AXIS, 4), border: { color: G_AXIS, width: 1.2 },
         title: { display: true, text: 'I / mA cm⁻²', color: G_TEXT, font: FONT(10.5), padding: { top: 3 } }, afterFit: fixY(LGI) }
  }, {}, { datasets: { bar: { categoryPercentage: 0.8, barPercentage: 0.63 } } })
});

// ---------------- h ----------------
const H_GREEN = '#2f8c1f', H_XMIN = -1.537, H_XMAX = 0.018;
const H_PANELS = [
  { id: 'h1', box: [538, 222, 277, 75], area: [602, 240, 815, 295], a: H_M2_A, b: H_M2_B, min: 1.6, max: 17.4, ticks: H_M2_TICKS, exp: 'x10⁻⁹', x: 'top' },
  { id: 'h2', box: [538, 298, 277, 66], area: [602, 302, 815, 362], a: H_M15_A, b: H_M15_B, min: 5.3, max: 37.5, ticks: H_M15_TICKS, exp: 'x10⁻⁹' },
  { id: 'h3', box: [538, 364, 277, 65], area: [602, 367, 815, 427], a: H_M26_A, b: H_M26_B, min: 2.57, max: 10.4, ticks: H_M26_TICKS, exp: 'x10⁻⁹' },
  { id: 'h4', box: [538, 429, 277, 62], area: [602, 434, 815, 489], a: H_M39_A, b: H_M39_B, min: 4.93, max: 10.17, ticks: H_M39_TICKS, exp: 'x10⁻⁹' },
  { id: 'h5', box: [538, 491, 277, 65], area: [602, 497, 815, 554], a: H_M42_A, b: H_M42_B, min: 1.56, max: 3.14, ticks: H_M42_TICKS, exp: 'x10⁻⁹', dec: true },
  { id: 'h6', box: [538, 556, 277, 110], area: [602, 561, 815, 621], a: H_M56_A, b: H_M56_B, min: 415, max: 804, ticks: H_M56_TICKS, exp: 'x10⁻¹²', x: 'bottom' }
];
H_PANELS.forEach(p => {
  const L = lay(p.box, p.area, p.x || 'none');
  const xScale = { type: 'linear', min: H_XMIN, max: H_XMAX, display: !!p.x };
  if (p.x) Object.assign(xScale, {
    position: p.x, afterBuildTicks: useTicks(H_XTICKS),
    ticks: { callback: v => H_XLABELS.some(m => Math.abs(m - v) < 1e-6) ? v.toFixed(1) : '',
             font: FONT(11), padding: p.x === 'top' ? 1 : 4, autoSkip: false, maxRotation: 0 },
    grid: tg('#222', 4), border: { color: '#222', width: 1.3 },
    title: { display: p.x === 'bottom', text: 'E (V) vs. RHE', font: FONT(15, 'bold', 'italic'), padding: { bottom: 0 } },
    afterFit: fixX(L)
  });
  new Chart(put(p.id, p.box), {
    type: 'line',
    data: { datasets: [p.a, p.b].map(v => ({ data: pts(H_E, v), borderColor: H_GREEN, borderWidth: 2.2, pointRadius: 0 })) },
    options: opts(L, {
      x: xScale,
      y: { min: p.min, max: p.max, afterBuildTicks: useTicks(p.ticks),
           ticks: { callback: (v, i, t) => (p.dec ? v.toFixed(1) : String(v)) + (i === t.length - 1 ? p.exp : ''),
                    font: FONT(11), padding: 2, autoSkip: false },
           grid: tg('#222', 4), border: { color: '#222', width: 1.3 }, afterFit: fixY(L) }
    })
  });
});
</script>
</body>
</html>
